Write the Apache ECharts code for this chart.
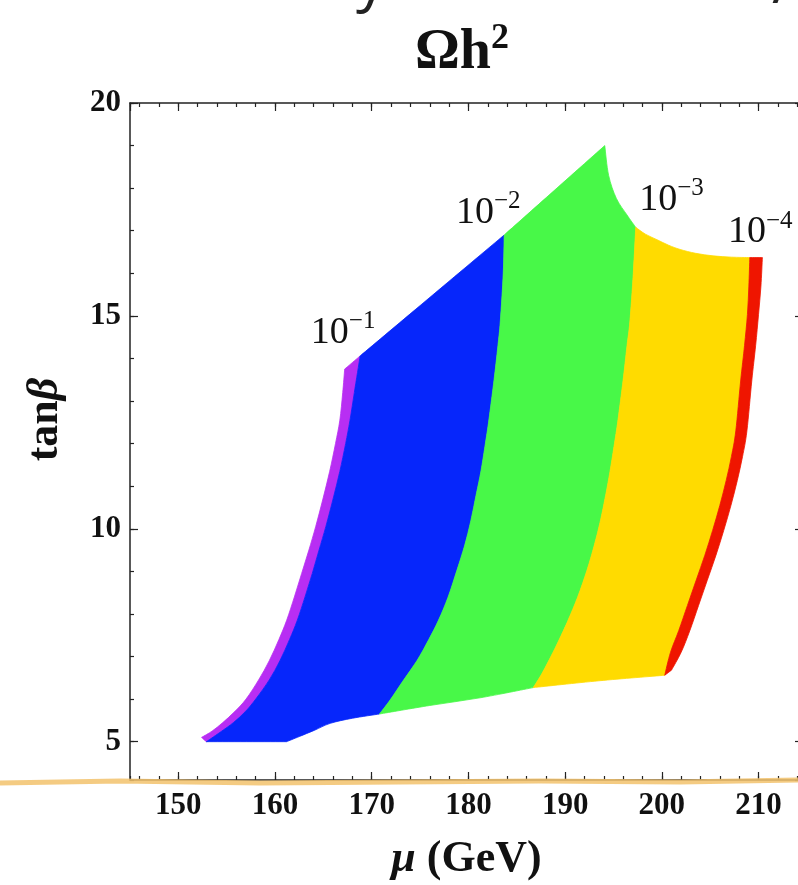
<!DOCTYPE html>
<html>
<head>
<meta charset="utf-8">
<title>Ωh²</title>
<script src="https://cdn.jsdelivr.net/npm/echarts@6/dist/echarts.min.js"></script>
<style>
html, body { margin: 0; padding: 0; background: #fff; }
#main { width: 798px; height: 885px; }
</style>
</head>
<body>
<div id="main"></div>
<script>
// band boundaries, [mu, tanBeta], listed bottom to top
const purpleOuter = [[152.4, 5.1], [153.5, 5.25], [154.6, 5.45], [155.8, 5.7], [157.0, 6.0], [158.3, 6.45],
    [159.4, 6.9], [160.4, 7.4], [161.2, 7.85], [162.0, 8.4], [162.75, 8.95], [163.5, 9.5], [164.2, 10.05],
    [164.95, 10.7], [165.65, 11.35], [166.25, 12.0], [166.7, 12.55], [167.0, 13.2], [167.2, 13.75]];
const purpleBlue = [[152.9, 5.0], [154.5, 5.25], [155.7, 5.45], [156.9, 5.7], [158.0, 6.0], [159.4, 6.45],
    [160.5, 6.9], [161.5, 7.4], [162.3, 7.85], [163.1, 8.4], [163.85, 8.95], [164.55, 9.5], [165.25, 10.05],
    [166.0, 10.7], [166.7, 11.35], [167.3, 12.0], [167.75, 12.55], [168.2, 13.2], [168.8, 14.06]];
const blueGreen = [[170.8, 5.65], [171.9, 5.98], [173.3, 6.45], [174.7, 6.91], [175.9, 7.4], [176.9, 7.85],
    [177.9, 8.4], [178.8, 9.02], [179.6, 9.6], [180.25, 10.19], [180.8, 10.8], [181.3, 11.36], [181.75, 12.0],
    [182.1, 12.53], [182.65, 13.5], [183.05, 14.3], [183.3, 14.88], [183.6, 16.0], [183.7, 16.9]];
const greenYellow = [[186.7, 6.27], [187.6, 6.6], [188.75, 7.1], [189.6, 7.5], [190.3, 7.85], [191.3, 8.4],
    [192.25, 9.02], [193.0, 9.6], [193.65, 10.19], [194.2, 10.8], [194.65, 11.36], [195.1, 12.0], [195.45, 12.53],
    [196.0, 13.5], [196.4, 14.3], [196.7, 14.88], [197.05, 16.0], [197.3, 17.08]];
const yellowRed = [[200.3, 6.56], [200.9, 7.1], [201.75, 7.61], [202.65, 8.2], [203.55, 8.79], [204.45, 9.38],
    [205.25, 9.96], [206.0, 10.55], [206.65, 11.13], [207.2, 11.7], [207.65, 12.3], [208.15, 13.47],
    [208.55, 14.3], [208.85, 15.03], [209.0, 15.7], [209.1, 16.37]];
const redOuter = [[201.0, 6.68], [202.0, 7.1], [202.9, 7.61], [203.8, 8.2], [204.7, 8.79], [205.6, 9.38],
    [206.4, 9.96], [207.15, 10.55], [207.8, 11.13], [208.35, 11.7], [208.8, 12.3], [209.3, 13.47],
    [209.7, 14.3], [210.0, 15.03], [210.25, 15.7], [210.4, 16.37]];

// outer envelope of the allowed region, left to right
const topEdge = [[167.2, 13.75], [168.8, 14.06], [183.7, 16.9], [194.1, 19.0], [194.5, 18.3], [195.3, 17.76],
    [196.4, 17.37], [197.3, 17.08], [198.3, 16.92], [199.5, 16.79], [200.7, 16.66], [201.9, 16.56],
    [203.5, 16.47], [205.3, 16.41], [207.2, 16.38], [209.1, 16.37], [210.4, 16.37]];
const bottomEdge = [[152.4, 5.1], [152.9, 5.0], [161.2, 5.0], [162.5, 5.12], [164.1, 5.27], [165.7, 5.43],
    [168.0, 5.55], [170.8, 5.65], [176.0, 5.85], [181.2, 6.03], [186.7, 6.27], [193.5, 6.43], [200.3, 6.56],
    [201.0, 6.68]];
// sharp corners on the envelope
const corners = [[194.1, 19.0], [161.2, 5.0]];

const curves = [purpleOuter, purpleBlue, blueGreen, greenYellow, yellowRed, redOuter];
const bandColors = ['#b82ef3', '#0626fb', '#48f848', '#ffdb00', '#ef1500'];

// contour labels 10^-n
const labelPoints = [[163.6, 14.6], [178.6, 17.41], [197.55, 17.73], [206.73, 16.96]];
const labelExponents = ['−1', '−2', '−3', '−4'];

const serif = "'Liberation Serif', 'Times New Roman', serif";

function isCorner(p) {
    return corners.some(function (c) { return c[0] === p[0] && c[1] === p[1]; });
}

// walk from `from` to `to` along an envelope, splitting at corners
function edgeRuns(edge, from, to) {
    let lo = Math.min(from[0], to[0]), hi = Math.max(from[0], to[0]);
    let inner = edge.filter(function (p) { return p[0] > lo && p[0] < hi; });
    if (from[0] > to[0]) inner.reverse();
    let runs = [];
    let cur = [from];
    inner.forEach(function (p) {
        cur.push(p);
        if (isCorner(p)) {
            runs.push(cur);
            cur = [p];
        }
    });
    cur.push(to);
    runs.push(cur);
    return runs;
}

// runs of boundary points around one band; corners sit between runs
function bandRuns(i) {
    let a = curves[i], b = curves[i + 1];
    let runs = [a.slice()];
    runs = runs.concat(edgeRuns(topEdge, a[a.length - 1], b[b.length - 1]));
    runs.push(b.slice().reverse());
    runs = runs.concat(edgeRuns(bottomEdge, b[0], a[0]));
    return runs;
}

// Catmull-Rom through pixel points, as cubic segments
function smoothSegs(pts) {
    let d = '';
    let n = pts.length;
    for (let k = 0; k < n - 1; k++) {
        let p0 = pts[Math.max(k - 1, 0)], p1 = pts[k], p2 = pts[k + 1], p3 = pts[Math.min(k + 2, n - 1)];
        let c1 = [p1[0] + (p2[0] - p0[0]) / 6, p1[1] + (p2[1] - p0[1]) / 6];
        let c2 = [p2[0] - (p3[0] - p1[0]) / 6, p2[1] - (p3[1] - p1[1]) / 6];
        d += ' C' + c1[0].toFixed(2) + ' ' + c1[1].toFixed(2) + ' ' + c2[0].toFixed(2) + ' ' + c2[1].toFixed(2) +
            ' ' + p2[0].toFixed(2) + ' ' + p2[1].toFixed(2);
    }
    return d;
}

function xAxisDef(pos, step, major) {
    return {
        type: 'value', position: pos, min: 145, max: 214.6,
        minInterval: step, maxInterval: step, splitNumber: Math.round(70 / step),
        axisLine: {show: major, onZero: false, lineStyle: {color: '#222', width: 1.5}},
        axisTick: {show: true, inside: true, length: major ? 8 : 4, lineStyle: {color: '#222', width: 1.2}},
        axisLabel: {show: false},
        splitLine: {show: false}
    };
}

function yAxisDef(pos, step, major) {
    return {
        type: 'value', position: pos, min: 4.1, max: 20,
        minInterval: step, maxInterval: step, splitNumber: Math.round(16 / step),
        axisLine: {show: major, onZero: false, lineStyle: {color: '#222', width: 1.5}},
        axisTick: {show: true, inside: true, length: major ? 8 : 4, lineStyle: {color: '#222', width: 1.2}},
        axisLabel: {show: false},
        splitLine: {show: false}
    };
}

let xAxes = [xAxisDef('bottom', 10, true), xAxisDef('bottom', 2, false), xAxisDef('top', 10, true), xAxisDef('top', 2, false)];
let yAxes = [yAxisDef('left', 5, true), yAxisDef('left', 1, false), yAxisDef('right', 5, true), yAxisDef('right', 1, false)];

xAxes[0].axisLabel = {
    show: true, margin: 10, showMinLabel: false, showMaxLabel: false,
    fontFamily: serif, fontWeight: 'bold', fontSize: 31, color: '#111',
    formatter: function (v) { return Math.abs(v % 10) < 1e-6 ? String(v) : ''; }
};
xAxes[0].name = '{m|μ}{g| (GeV)}';
xAxes[0].nameLocation = 'middle';
xAxes[0].nameGap = 58;
xAxes[0].nameTextStyle = {
    rich: {
        m: {fontFamily: serif, fontWeight: 'bold', fontStyle: 'italic', fontSize: 44, color: '#111'},
        g: {fontFamily: serif, fontWeight: 'bold', fontSize: 44, color: '#111'}
    }
};

yAxes[0].axisLabel = {
    show: true, margin: 9, showMinLabel: false,
    fontFamily: serif, fontWeight: 'bold', fontSize: 31, color: '#111',
    formatter: function (v) { return Math.abs(v % 5) < 1e-6 ? String(v) : ''; }
};
yAxes[0].name = '{t|tan}{b|β}';
yAxes[0].nameLocation = 'middle';
yAxes[0].nameRotate = 90;
yAxes[0].nameGap = 62;
yAxes[0].nameTextStyle = {
    padding: [0, 0, 0, 44],
    rich: {
        t: {fontFamily: serif, fontWeight: 'bold', fontSize: 44, color: '#111'},
        b: {fontFamily: serif, fontWeight: 'bold', fontStyle: 'italic', fontSize: 44, color: '#111'}
    }
};

let myChart = echarts.init(document.getElementById('main'));

let option = {
    backgroundColor: '#fff',
    animation: false,
    title: {
        text: '{a|Ωh}{b|2}',
        left: 410,
        top: 16,
        textStyle: {
            rich: {
                a: {fontFamily: serif, fontWeight: 'bold', fontSize: 56, lineHeight: 66, color: '#111'},
                b: {fontFamily: serif, fontWeight: 'bold', fontSize: 36, lineHeight: 36, verticalAlign: 'top', color: '#111'}
            }
        }
    },
    grid: {left: 130, top: 103, width: 673, bottom: 105, outerBoundsMode: 'none', containLabel: false},
    xAxis: xAxes,
    yAxis: yAxes,
    series: [
        {
            type: 'custom',
            name: 'bands',
            xAxisIndex: 0,
            yAxisIndex: 0,
            silent: true,
            data: bandColors.map(function (c, i) { return curves[i][0]; }),
            renderItem: function (params, api) {
                let i = params.dataIndex;
                let runs = bandRuns(i).map(function (run) {
                    return run.map(function (p) { return api.coord(p); });
                });
                let start = runs[0][0];
                let d = 'M' + start[0].toFixed(2) + ' ' + start[1].toFixed(2);
                runs.forEach(function (run) { d += smoothSegs(run); });
                d += ' Z';
                return {
                    type: 'path',
                    shape: {pathData: d},
                    style: {fill: bandColors[i], stroke: bandColors[i], lineWidth: 0.8}
                };
            }
        },
        {
            type: 'scatter',
            name: 'contours',
            xAxisIndex: 0,
            yAxisIndex: 0,
            silent: true,
            symbolSize: 2,
            itemStyle: {color: 'rgba(0,0,0,0)'},
            data: labelPoints,
            label: {
                show: true,
                position: 'right',
                distance: 0,
                color: '#111',
                opacity: 1,
                formatter: function (p) { return '{a|10}{b|' + labelExponents[p.dataIndex] + '}'; },
                rich: {
                    a: {fontFamily: serif, fontSize: 38, lineHeight: 48, color: '#111'},
                    b: {fontFamily: serif, fontSize: 25, lineHeight: 25, verticalAlign: 'top', color: '#111'}
                }
            },
            z: 5
        }
    ],
    graphic: [
        {
            type: 'polyline',
            z: 100,
            silent: true,
            shape: {points: [[0, 783], [120, 781], [260, 783], [400, 782], [540, 781], [680, 782], [798, 780]]},
            style: {stroke: '#f2c26c', lineWidth: 5, opacity: 0.85}
        },
        {
            type: 'text',
            silent: true,
            style: {x: 356, y: 13, text: 'y', font: '60px "Open Sans"', fill: '#222', verticalAlign: 'bottom'}
        },
        {
            type: 'text',
            silent: true,
            style: {x: 772, y: 16, text: '/', font: '60px "Open Sans"', fill: '#222', verticalAlign: 'bottom'}
        }
    ]
};

myChart.setOption(option);
</script>
</body>
</html>
